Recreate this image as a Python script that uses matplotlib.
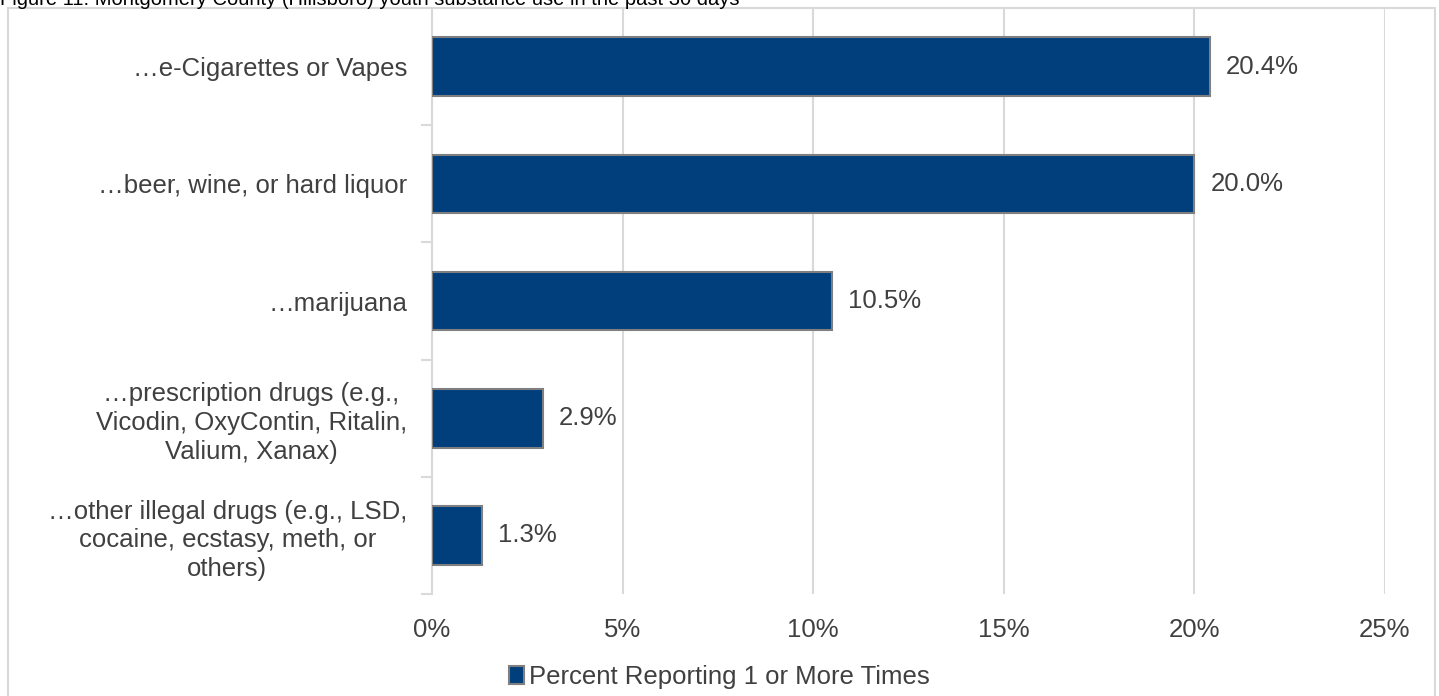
import numpy as np
import matplotlib.pyplot as plt
from matplotlib.patches import Rectangle

plt.rcParams['font.family'] = ['Liberation Sans', 'DejaVu Sans']

# Data
categories = [
    "\u2026e-Cigarettes or Vapes",
    "\u2026beer, wine, or hard liquor",
    "\u2026marijuana",
    "\u2026prescription drugs (e.g.,\nVicodin, OxyContin, Ritalin,\nValium, Xanax)",
    "\u2026other illegal drugs (e.g., LSD,\ncocaine, ecstasy, meth, or\nothers)",
]
values = [20.4, 20.0, 10.5, 2.9, 1.3]
x_ticks = [0, 5, 10, 15, 20, 25]
series_name = "Percent Reporting 1 or More Times"
title = "Figure 11: Montgomery County (Hillsboro) youth substance use in the past 30 days"

bar_color = "#003F7C"
text_color = "#404040"
grid_color = "#D9D9D9"
fs = 18.5

fig = plt.figure(figsize=(14.39, 6.96), dpi=100)
ax = fig.add_axes([432 / 1439, 1 - 594 / 696, (1385 - 432) / 1439, (594 - 8) / 696])

y = np.arange(len(categories))
bars = ax.barh(y, values, height=0.5, color=bar_color, edgecolor="#7F7F7F",
               linewidth=1.5, label=series_name, zorder=3)
ax.set_ylim(len(categories) - 0.5, -0.5)
ax.set_xlim(0, 25)

for yi, v in zip(y, values):
    ax.text(v + 0.42, yi, f"{v:.1f}%", va="center", ha="left",
            fontsize=fs, color=text_color)

ax.set_xticks(x_ticks)
ax.set_xticklabels([f"{t}%" for t in x_ticks], fontsize=fs, color=text_color)
ax.tick_params(axis="x", length=0, pad=17)

ax.set_yticks(y)
ax.set_yticklabels(categories, fontsize=fs, color=text_color, linespacing=1.25,
                   multialignment="center")
ax.tick_params(axis="y", which="major", length=0, pad=18)
ax.set_yticks(np.arange(len(categories) + 1) - 0.5, minor=True)
ax.tick_params(axis="y", which="minor", length=8, color=grid_color, width=1.5)

ax.grid(axis="x", color=grid_color, linewidth=1.5, zorder=0)
for s in ["top", "right", "bottom"]:
    ax.spines[s].set_visible(False)
ax.spines["left"].set_color(grid_color)
ax.spines["left"].set_linewidth(1.5)

leg = fig.legend(loc="center", bbox_to_anchor=(0.5, 1 - 677 / 696), frameon=False,
                 fontsize=fs, handlelength=0.6, handleheight=0.7, handletextpad=0.2)
for t in leg.get_texts():
    t.set_color(text_color)

# outer chart border
fig.patches.append(Rectangle((8 / 1439, -0.05), (1435 - 8) / 1439, 1.05 - 8 / 696,
                             transform=fig.transFigure, fill=False,
                             edgecolor=grid_color, linewidth=1.5))

fig.text(0.0, 1 - 5 / 696, title, ha="left", va="baseline", fontsize=14.5, color="#000000")

fig.savefig("out.png", dpi=100)
